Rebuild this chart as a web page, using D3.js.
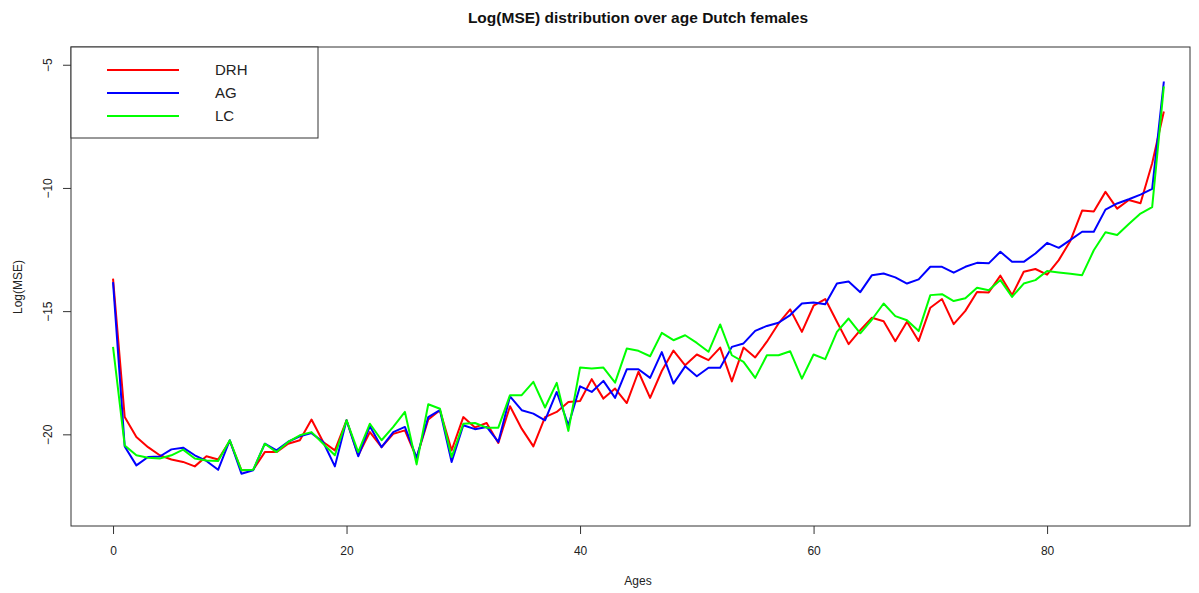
<html>
<head>
<meta charset="utf-8">
<title>Log(MSE) distribution over age Dutch females</title>
<style>
  body { margin: 0; background: #fff; }
  text { font-family: "Liberation Sans", Arial, sans-serif; fill: #222; }
</style>
<script src="https://d3js.org/d3.v7.min.js"></script>
</head>
<body>
<svg width="1199" height="593"></svg>
<script>
// ages 0..90
var ages = d3.range(0, 91);

var drh = [-13.68,-19.30,-20.11,-20.52,-20.85,-21.02,-21.12,-21.30,-20.89,-21.02,
  -20.27,-21.46,-21.44,-20.72,-20.72,-20.38,-20.24,-19.40,-20.31,-20.65,
  -19.43,-20.85,-19.91,-20.52,-19.98,-19.84,-20.95,-19.40,-19.02,-20.65,
  -19.30,-19.72,-19.54,-20.35,-18.86,-19.77,-20.49,-19.30,-19.09,-18.69,
  -18.65,-17.76,-18.55,-18.14,-18.73,-17.46,-18.52,-17.43,-16.60,-17.20,
  -16.76,-16.99,-16.48,-17.85,-16.48,-16.88,-16.24,-15.50,-14.93,-15.84,
  -14.78,-14.51,-15.43,-16.34,-15.77,-15.27,-15.41,-16.22,-15.43,-16.21,
  -14.86,-14.51,-15.53,-14.99,-14.22,-14.24,-13.56,-14.35,-13.40,-13.29,
  -13.52,-12.93,-12.14,-10.92,-10.96,-10.16,-10.84,-10.49,-10.62,-9.00,
  -6.90];

var ag = [-13.82,-20.49,-21.26,-20.92,-20.90,-20.61,-20.54,-20.85,-21.08,-21.44,
  -20.24,-21.60,-21.46,-20.38,-20.65,-20.30,-20.08,-19.95,-20.31,-21.30,
  -19.43,-20.89,-19.67,-20.52,-19.91,-19.70,-20.95,-19.30,-19.02,-21.12,
  -19.63,-19.79,-19.70,-20.31,-18.46,-19.02,-19.16,-19.43,-18.28,-19.63,
  -18.05,-18.28,-17.83,-18.52,-17.36,-17.36,-17.71,-16.66,-17.94,-17.24,
  -17.64,-17.30,-17.30,-16.45,-16.31,-15.80,-15.60,-15.47,-15.16,-14.69,
  -14.65,-14.72,-13.88,-13.80,-14.23,-13.54,-13.47,-13.63,-13.88,-13.71,
  -13.20,-13.20,-13.44,-13.20,-13.04,-13.06,-12.59,-13.00,-13.00,-12.66,
  -12.23,-12.43,-12.11,-11.78,-11.78,-10.88,-10.63,-10.46,-10.27,-10.04,
  -5.68];

var lc = [-16.45,-20.45,-20.85,-20.95,-20.98,-20.85,-20.62,-20.98,-21.06,-21.08,
  -20.24,-21.46,-21.44,-20.38,-20.72,-20.31,-20.04,-19.91,-20.38,-20.85,
  -19.43,-20.72,-19.57,-20.24,-19.70,-19.09,-21.22,-18.78,-18.96,-20.92,
  -19.57,-19.54,-19.73,-19.73,-18.41,-18.41,-17.87,-18.91,-17.91,-19.86,
  -17.29,-17.33,-17.29,-17.90,-16.52,-16.61,-16.83,-15.88,-16.18,-15.98,
  -16.29,-16.65,-15.54,-16.79,-17.06,-17.71,-16.79,-16.79,-16.63,-17.74,
  -16.76,-16.95,-15.84,-15.30,-15.90,-15.34,-14.69,-15.20,-15.37,-15.81,
  -14.35,-14.31,-14.59,-14.48,-14.05,-14.15,-13.74,-14.42,-13.88,-13.74,
  -13.37,-13.43,-13.48,-13.54,-12.53,-11.80,-11.91,-11.46,-11.04,-10.78,
  -5.88];

var seriesNames = ["DRH", "AG", "LC"];
var seriesColors = ["#ff0000", "#0000ff", "#00ff00"];
var xTicks = [0, 20, 40, 60, 80];
var yTicks = [-5, -10, -15, -20];

var svg = d3.select("svg"),
    pLeft = 71, pRight = 1190, pTop = 47, pBottom = 526;

var x = d3.scaleLinear().domain([-3.6, 92.24]).range([pLeft, pRight]);
var y = d3.scaleLinear().domain([-23.72, -4.28]).range([pBottom, pTop]);

//lines
var line = d3.line().x((d, i) => x(ages[i])).y(d => y(d));
[drh, ag, lc].forEach(function(s, k) {
  svg.append("path")
    .datum(s)
    .attr("fill", "none")
    .attr("stroke", seriesColors[k])
    .attr("stroke-width", 2)
    .attr("stroke-linejoin", "round")
    .attr("d", line);
});

//axes
var xAxis = svg.append("g")
  .attr("transform", "translate(0," + pBottom + ")")
  .call(d3.axisBottom(x).tickValues(xTicks).tickSize(8).tickSizeOuter(0).tickPadding(12));
var yAxis = svg.append("g")
  .attr("transform", "translate(" + pLeft + ",0)")
  .call(d3.axisLeft(y).tickValues(yTicks).tickSize(8).tickSizeOuter(0).tickFormat(d3.format("d")));
[xAxis, yAxis].forEach(function(a) {
  a.select(".domain").remove();
  a.selectAll("line").attr("stroke", "#333");
  a.selectAll("text").style("font-size", "12px").style("fill", "#222")
    .style("font-family", "'Liberation Sans', Arial, sans-serif");
});
yAxis.selectAll("text")
  .attr("x", null).attr("dy", null)
  .attr("text-anchor", "middle")
  .attr("transform", "translate(-19,0) rotate(-90)");

//box
svg.append("rect")
  .attr("x", pLeft).attr("y", pTop)
  .attr("width", pRight - pLeft).attr("height", pBottom - pTop)
  .attr("fill", "none").attr("stroke", "#333").attr("stroke-width", 1);

//titles
svg.append("text")
  .attr("x", 638).attr("y", 23)
  .attr("text-anchor", "middle")
  .style("font-size", "15.5px").style("font-weight", "bold")
  .style("fill", "#111")
  .text("Log(MSE) distribution over age Dutch females");
svg.append("text")
  .attr("x", 638).attr("y", 585)
  .attr("text-anchor", "middle")
  .style("font-size", "12px")
  .text("Ages");
svg.append("text")
  .attr("transform", "translate(22,287) rotate(-90)")
  .attr("text-anchor", "middle")
  .style("font-size", "12px")
  .text("Log(MSE)");

//legend
var lg = svg.append("g");
lg.append("rect")
  .attr("x", pLeft).attr("y", pTop)
  .attr("width", 247).attr("height", 91)
  .attr("fill", "#fff").attr("stroke", "#333");
seriesNames.forEach(function(name, k) {
  var ly = 70 + k * 23;
  lg.append("line")
    .attr("x1", 107).attr("x2", 179).attr("y1", ly).attr("y2", ly)
    .attr("stroke", seriesColors[k]).attr("stroke-width", 2);
  lg.append("text")
    .attr("x", 215).attr("y", ly).attr("dy", "0.36em")
    .style("font-size", "15px")
    .text(name);
});
</script>
</body>
</html>
